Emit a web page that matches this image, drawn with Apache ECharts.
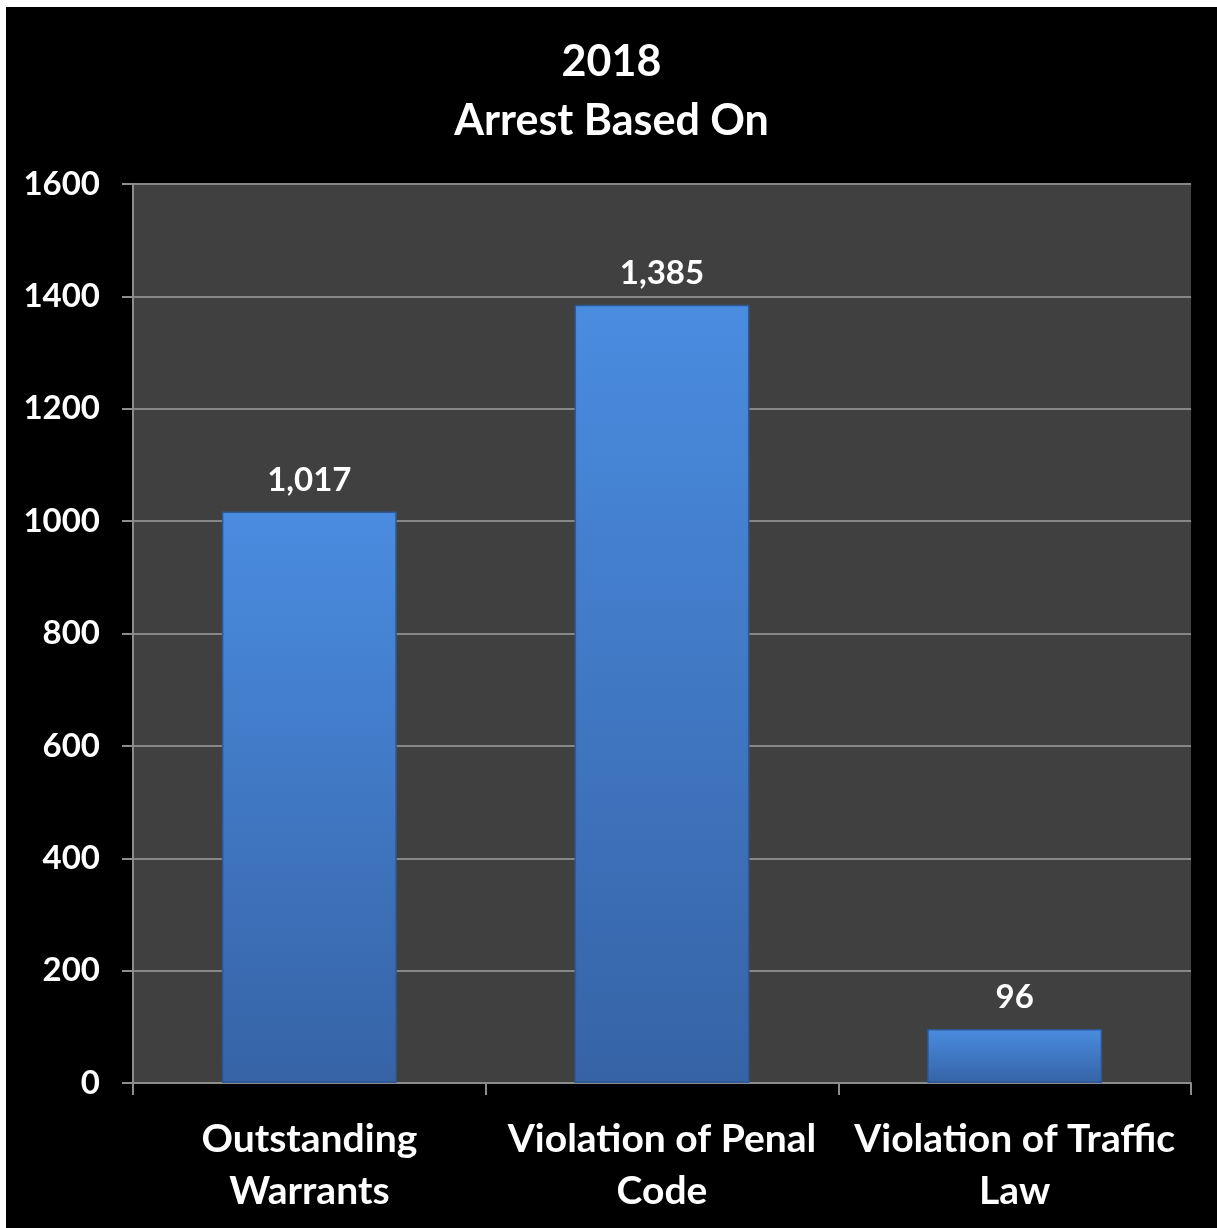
<!DOCTYPE html>
<html>
<head>
<meta charset="utf-8">
<style>
  html, body { margin: 0; padding: 0; background: #ffffff; }
  #chart { position: absolute; left: 6px; top: 7px; width: 1211px; height: 1221px; background: #000000; }
</style>
<script src="https://cdn.jsdelivr.net/npm/echarts@6/dist/echarts.min.js"></script>
</head>
<body>
<div id="chart"></div>
<script>
// Arrests in 2018 grouped by basis of arrest
const categories = ['Outstanding\nWarrants', 'Violation of Penal\nCode', 'Violation of Traffic\nLaw'];
const arrests = [1017, 1385, 96];
const yTicks = { min: 0, max: 1600, interval: 200 };

const FONT = 'Lato, "Open Sans", sans-serif';
const chart = echarts.init(document.getElementById('chart'));

chart.setOption({
  backgroundColor: '#000000',
  animation: false,
  title: {
    text: '2018\nArrest Based On',
    left: 'center',
    top: 21,
    textStyle: { color: '#ffffff', fontFamily: FONT, fontWeight: 'bold', fontSize: 43, lineHeight: 59 }
  },
  grid: { left: 127, top: 177, width: 1058, height: 899, containLabel: false, show: true, backgroundColor: '#404040', borderWidth: 0 },
  xAxis: {
    type: 'category',
    data: categories,
    axisLine: { show: true, lineStyle: { color: '#8c8c8c', width: 2 } },
    axisTick: { show: true, length: 12, lineStyle: { color: '#8c8c8c', width: 2 } },
    axisLabel: { color: '#ffffff', fontFamily: FONT, fontWeight: 'bold', fontSize: 39, lineHeight: 52, margin: 30, interval: 0 }
  },
  yAxis: {
    type: 'value',
    min: yTicks.min,
    max: yTicks.max,
    interval: yTicks.interval,
    axisLine: { show: true, lineStyle: { color: '#8c8c8c', width: 2 } },
    axisTick: { show: true, length: 11, lineStyle: { color: '#8c8c8c', width: 2 } },
    axisLabel: { color: '#ffffff', fontFamily: FONT, fontWeight: 'bold', fontSize: 33, margin: 33, formatter: v => String(v) },
    splitLine: { show: true, lineStyle: { color: '#878787', width: 2 } }
  },
  series: [{
    type: 'bar',
    data: arrests,
    barWidth: '49.6%',
    itemStyle: {
      color: new echarts.graphic.LinearGradient(0, 0, 0, 1, [
        { offset: 0, color: '#4a8ce0' },
        { offset: 1, color: '#3663a6' }
      ]),
      borderColor: '#2e5894',
      borderWidth: 1.5
    },
    label: {
      show: true,
      position: 'top',
      distance: 15,
      color: '#ffffff',
      fontFamily: FONT,
      fontWeight: 'bold',
      fontSize: 33,
      formatter: p => p.value.toLocaleString('en-US')
    }
  }]
});
</script>
</body>
</html>
